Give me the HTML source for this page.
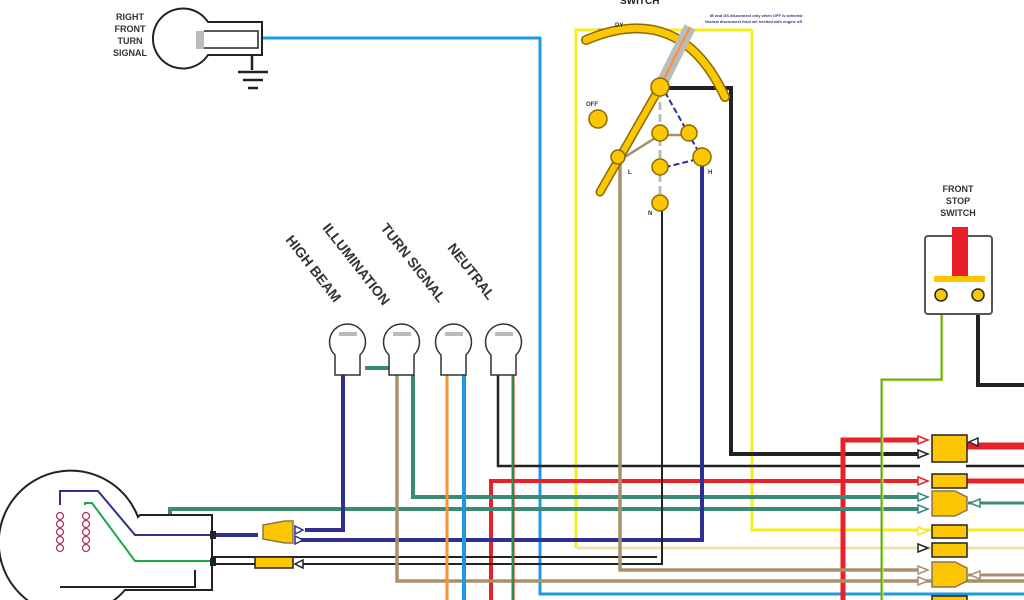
<!DOCTYPE html>
<html><head><style>body{margin:0;background:#fff}svg{display:block}text{font-family:"Liberation Sans",sans-serif;font-weight:bold}</style></head>
<body>
<svg width="1024" height="600" viewBox="0 0 1024 600" xmlns="http://www.w3.org/2000/svg">
<g fill="none" stroke-linejoin="miter">
<path d="M262 38 H540 V594 H1024" stroke="#1e9be0" stroke-width="3"/>
<path d="M752 30 V530 H1024" stroke="#f7ee1a" stroke-width="3"/>
<path d="M752 30 H576 V548" stroke="#f7ee1a" stroke-width="3"/>
<path d="M577 548 H1024" stroke="#ece3b0" stroke-width="3"/>
<path d="M598 30 H640" stroke="#a8906c" stroke-width="3"/>
<path d="M662 88 H731 V454 H920" stroke="#222" stroke-width="4"/>
<path d="M498 375 V466 H920" stroke="#222" stroke-width="2.5"/>
<path d="M966 466 H1024" stroke="#222" stroke-width="2.5"/>
<path d="M491 600 V481 H920" stroke="#e8202a" stroke-width="4"/>
<path d="M966 481 H1024" stroke="#e8202a" stroke-width="5"/>
<path d="M843 600 V440 H918" stroke="#e8202a" stroke-width="5"/>
<path d="M966 446 H1024" stroke="#e8202a" stroke-width="7"/>
<path d="M413 375 V497 H920" stroke="#3b8a76" stroke-width="4"/>
<path d="M170 518 V509 H920" stroke="#3b8a76" stroke-width="4"/>
<path d="M968 503 H1024" stroke="#3b8a76" stroke-width="3"/>
<path d="M365 368 H390" stroke="#3b8a76" stroke-width="4"/>
<path d="M343 375 V530 H305" stroke="#2e2f8f" stroke-width="4"/>
<path d="M298 540 H702 V160" stroke="#2e2f8f" stroke-width="4"/>
<path d="M212 535 H258" stroke="#2e2f8f" stroke-width="4"/>
<path d="M212 557 H657" stroke="#222" stroke-width="2"/>
<path d="M298 564 H662 V200" stroke="#222" stroke-width="2"/>
<path d="M212 564 H258" stroke="#222" stroke-width="2"/>
<path d="M397 375 V581 H1024" stroke="#a8906c" stroke-width="3.5"/>
<path d="M620 160 V570 H920" stroke="#a8906c" stroke-width="3.5"/>
<path d="M968 575 H1024" stroke="#a8906c" stroke-width="3"/>
<path d="M620 160 L660 135 H690" stroke="#a8906c" stroke-width="2.5"/>
<path d="M447 375 V600" stroke="#f6923a" stroke-width="3"/>
<path d="M464 375 V600" stroke="#1e9be0" stroke-width="4"/>
<path d="M513 375 V600" stroke="#1a9a4a" stroke-width="3"/>
<path d="M514 375 V600" stroke="#e8202a" stroke-width="1"/>
<path d="M882 600 V380 H942 V295" stroke="#5aa93c" stroke-width="3"/>
<path d="M883 600 V381 H943 V295" stroke="#f0ea30" stroke-width="1"/>
<path d="M978 295 V385 H1024" stroke="#222" stroke-width="4"/>
<path d="M252 55 V70 M238 72 H268 M243 80 H263 M248 88 H258" stroke="#222" stroke-width="2.5"/>
</g>
<g stroke="#222" stroke-width="2" fill="#fff">
<path d="M208 55 A30 30 0 1 1 208 22 H262 V55 Z"/>
<rect x="196" y="31" width="8" height="18" fill="#bbb" stroke="none"/>
<path d="M204 31 H258 V48 H204" fill="none" stroke-width="1.5"/>
</g>
<text x="130" y="20" font-size="9" text-anchor="middle" fill="#333">RIGHT</text>
<text x="130" y="32" font-size="9" text-anchor="middle" fill="#333">FRONT</text>
<text x="130" y="44" font-size="9" text-anchor="middle" fill="#333">TURN</text>
<text x="130" y="56" font-size="9" text-anchor="middle" fill="#333">SIGNAL</text>
<g stroke="#222" stroke-width="2" fill="#fff">
<path d="M138 517 A72 72 0 1 0 125 590 H212 V515 H140 Z"/>
<path d="M60 587 H195 V570" fill="none"/>
</g>
<path d="M60 505 V491 H98 L135 535 H212" fill="none" stroke="#2e2f8f" stroke-width="2"/>
<path d="M85 505 V503 H92 L135 561 H212" fill="none" stroke="#1aa84a" stroke-width="2"/>
<g fill="none" stroke="#a36" stroke-width="1.3">
<circle cx="60" cy="516" r="3.5"/><circle cx="60" cy="524" r="3.5"/><circle cx="60" cy="532" r="3.5"/><circle cx="60" cy="540" r="3.5"/><circle cx="60" cy="548" r="3.5"/>
<circle cx="86" cy="516" r="3.5"/><circle cx="86" cy="524" r="3.5"/><circle cx="86" cy="532" r="3.5"/><circle cx="86" cy="540" r="3.5"/><circle cx="86" cy="548" r="3.5"/>
</g>
<rect x="210" y="531" width="6" height="8" fill="#222"/><rect x="210" y="558" width="6" height="8" fill="#222"/>
<path d="M263 525 L285 521 H293 V543 H285 L263 539 Z" fill="#fcc700" stroke="#8a7550" stroke-width="1.5"/>
<rect x="255" y="557" width="38" height="11" fill="#fcc700" stroke="#222" stroke-width="1.5"/>
<g stroke="#333" stroke-width="1.5" fill="#fff">
<path d="M335 375 V355 A18 18 0 1 1 360 355 V375 Z"/>
<path d="M389 375 V355 A18 18 0 1 1 414 355 V375 Z"/>
<path d="M441 375 V355 A18 18 0 1 1 466 355 V375 Z"/>
<path d="M491 375 V355 A18 18 0 1 1 516 355 V375 Z"/>
</g>
<g fill="#bbb"><rect x="339" y="332" width="18" height="4"/><rect x="393" y="332" width="18" height="4"/><rect x="445" y="332" width="18" height="4"/><rect x="495" y="332" width="18" height="4"/></g>
<g font-size="14" fill="#333">
<text transform="translate(285,240) rotate(52)">HIGH BEAM</text>
<text transform="translate(322,228) rotate(52)">ILLUMINATION</text>
<text transform="translate(380,228) rotate(52)">TURN SIGNAL</text>
<text transform="translate(447,248) rotate(52)">NEUTRAL</text>
</g>
<path d="M586 40 Q680 0 725 97" fill="none" stroke="#8a6a00" stroke-width="10" stroke-linecap="round"/>
<path d="M586 40 Q680 0 725 97" fill="none" stroke="#fcc700" stroke-width="7" stroke-linecap="round"/>
<path d="M690 27 L660 87" stroke="#bbb" stroke-width="12"/>
<path d="M690 27 L660 87" stroke="#f6923a" stroke-width="2"/>
<path d="M660 87 L600 192" stroke="#8a6a00" stroke-width="9" stroke-linecap="round"/>
<path d="M660 87 L600 192" stroke="#fcc700" stroke-width="6" stroke-linecap="round"/>
<path d="M660 90 V200" stroke="#bbb" stroke-width="3" stroke-dasharray="8 4"/>
<path d="M665 92 L702 158 L662 168" fill="none" stroke="#2e2f8f" stroke-width="2" stroke-dasharray="6 3"/>
<g fill="#fcc700" stroke="#8a6a00" stroke-width="1.5">
<circle cx="660" cy="87" r="9"/><circle cx="598" cy="119" r="9"/><circle cx="660" cy="133" r="8"/><circle cx="689" cy="133" r="8"/><circle cx="702" cy="157" r="9"/><circle cx="660" cy="167" r="8"/><circle cx="660" cy="203" r="8"/><circle cx="618" cy="157" r="7"/>
</g>
<g font-size="6" fill="#333"><text x="586" y="106">OFF</text><text x="615" y="27">DY</text><text x="628" y="174">L</text><text x="708" y="174">H</text><text x="648" y="215">N</text></g>
<text x="710" y="17" font-size="4" fill="#2e2f8f">IB  and  DS  disconnect  only  when  OFF  is  selected</text>
<text x="705" y="23" font-size="4" fill="#2e2f8f">Neutral  disconnect  from  wh  needed  with  engine  off</text>
<text x="620" y="4" font-size="10" fill="#222">SWITCH</text>
<rect x="925" y="236" width="67" height="78" rx="3" fill="#fff" stroke="#555" stroke-width="2"/>
<rect x="952" y="227" width="16" height="50" fill="#e8202a"/>
<rect x="934" y="276" width="51" height="6" fill="#fcc700"/>
<circle cx="941" cy="295" r="6" fill="#fcc700" stroke="#222" stroke-width="1.5"/>
<circle cx="978" cy="295" r="6" fill="#fcc700" stroke="#222" stroke-width="1.5"/>
<g font-size="9" fill="#333" text-anchor="middle"><text x="958" y="192">FRONT</text><text x="958" y="204">STOP</text><text x="958" y="216">SWITCH</text></g>
<g fill="#fcc700" stroke="#222" stroke-width="1.5">
<rect x="932" y="435" width="35" height="27"/>
<rect x="932" y="474" width="35" height="14"/>
<path d="M932 491 H955 L967 497 V510 L955 516 H932 Z" stroke="#8a7550"/>
<rect x="932" y="525" width="35" height="13"/>
<rect x="932" y="543" width="35" height="14"/>
<path d="M932 562 H955 L967 568 V581 L955 587 H932 Z" stroke="#8a7550"/>
<rect x="932" y="596" width="35" height="10"/>
</g>
<g fill="#fff" stroke-width="1.5">
<path d="M918 436 L928 440 L918 444 Z" stroke="#e8202a"/>
<path d="M918 450 L928 454 L918 458 Z" stroke="#222"/>
<path d="M918 477 L928 481 L918 485 Z" stroke="#e8202a"/>
<path d="M918 493 L928 497 L918 501 Z" stroke="#3b8a76"/>
<path d="M918 505 L928 509 L918 513 Z" stroke="#3b8a76"/>
<path d="M918 527 L928 531 L918 535 Z" stroke="#f0ea30"/>
<path d="M918 544 L928 548 L918 552 Z" stroke="#222"/>
<path d="M918 566 L928 570 L918 574 Z" stroke="#a8906c"/>
<path d="M918 577 L928 581 L918 585 Z" stroke="#a8906c"/>
<path d="M980 499 L970 503 L980 507 Z" stroke="#3b8a76"/>
<path d="M980 571 L970 575 L980 579 Z" stroke="#a8906c"/>
<path d="M978 438 L969 442 L978 446 Z" stroke="#222"/>
<path d="M295 526 L303 530 L295 534 Z" stroke="#2e2f8f"/>
<path d="M295 536 L303 540 L295 544 Z" stroke="#2e2f8f"/>
<path d="M303 560 L295 564 L303 568 Z" stroke="#222"/>
</g>
</svg>
</body></html>
